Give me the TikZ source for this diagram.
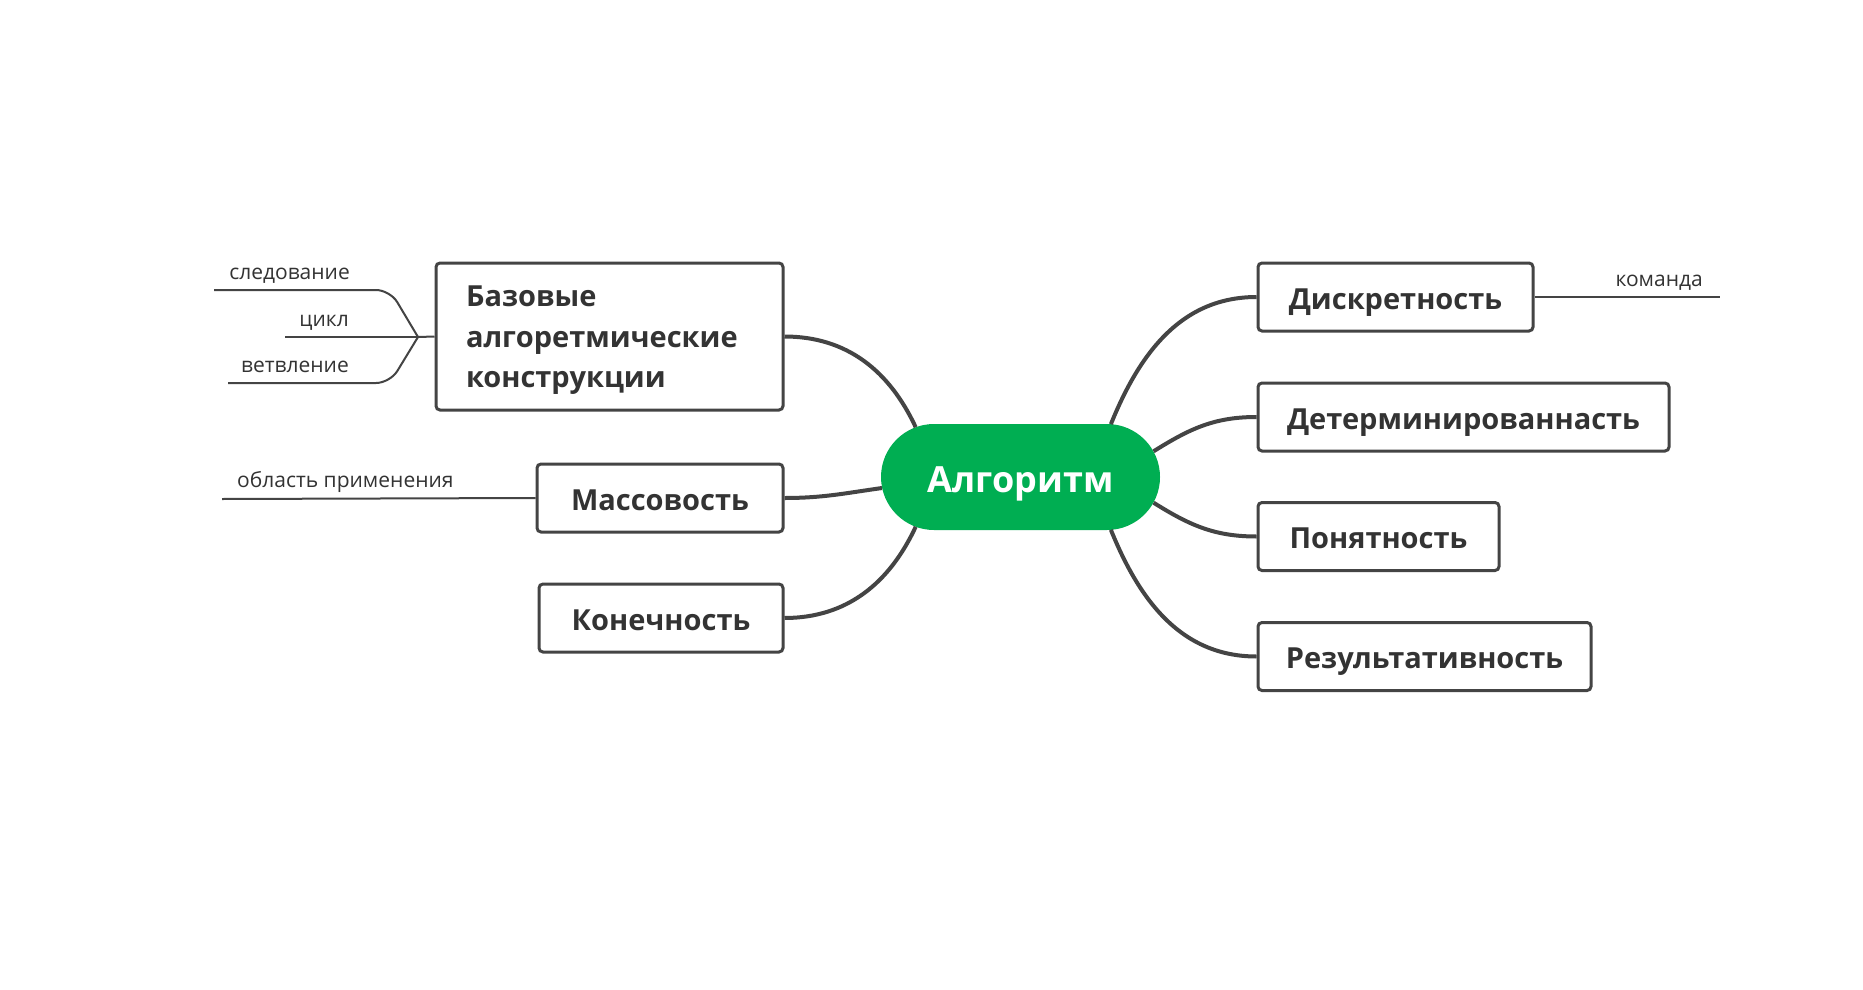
\documentclass[tikz,border=0pt]{standalone}
\usepackage{fontspec}
\setmainfont{Open Sans}
\usepackage{xcolor}
\usetikzlibrary{calc}
\definecolor{algogreen}{RGB}{0,174,82}
\definecolor{linegray}{RGB}{68,68,68}
\definecolor{textgray}{RGB}{51,51,51}

\begin{document}
\begin{tikzpicture}[x=1pt,y=1pt,
		box/.style={draw=linegray,line width=3pt,rounded corners=4pt,fill=white,
			minimum height=68pt,inner sep=0pt,text=textgray,text height=24pt,text depth=0pt,
			font=\fontsize{29}{40.5}\selectfont\bfseries},
		trunk/.style={linegray,line width=4pt},
		twig/.style={linegray,line width=2pt},
		leaf/.style={text=textgray,inner sep=0pt,font=\fontsize{21}{25}\selectfont}]
		\fill[white] (0,0) rectangle (1863,-990);
		\useasboundingbox (0,0) rectangle (1863,-990);
		
		% centre
		\node[fill=algogreen,rounded corners=53pt,minimum width=279pt,minimum height=106pt,
			inner sep=0pt,text=white,text height=30pt,text depth=0pt,
			font=\fontsize{36}{40}\selectfont\bfseries]
			(alg) at (1020.5,-477) {Алгоритм};
		\coordinate (rc) at ([xshift=-53]alg.east);
		\coordinate (lc) at ([xshift=53]alg.west);
		
		% left side
		\node[box,minimum width=347pt,minimum height=147pt,text width=287pt,align=left,
			text height=20pt,text depth=80pt]
			(base) at (609.5,-336.5) {Базовые\\алгоретмические\\конструкции};
		\node[box,minimum width=246pt] (mass) at (660,-498) {Массовость};
		\node[box,minimum width=244pt] (kon) at (661,-618) {Конечность};
		
		% right side
		\node[box,minimum width=275pt] (disc) at (1395.5,-297) {Дискретность};
		\node[box,minimum width=411pt] (det) at (1463.5,-417) {Детерминированнасть};
		\node[box,minimum width=241pt] (pon) at (1378.5,-536.5) {Понятность};
		\node[box,minimum width=333pt] (res) at (1424.5,-656.5) {Результативность};
		
		\draw[trunk] ($(lc)+(110:53pt)$) to[out=115,in=0] (base.east);
		\draw[trunk] ($(lc)+(192:53pt)$) to[out=188,in=0] (mass.east);
		\draw[trunk] ($(lc)+(-110:53pt)$) to[out=-115,in=0] (kon.east);
		\draw[trunk] ($(rc)+(86:53pt)$) to[out=68,in=180] (disc.west);
		\draw[trunk] ($(rc)+(29:53pt)$) to[out=32,in=180] (det.west);
		\draw[trunk] ($(rc)+(-29:53pt)$) to[out=-32,in=180] (pon.west);
		\draw[trunk] ($(rc)+(-86:53pt)$) to[out=-68,in=180] (res.west);
		
		% small branches
		\coordinate (fork) at (418,-337);
		\coordinate (sled) at (214,-290);
		\coordinate (cikl) at (285,-337);
		\coordinate (vetv) at (228,-383);
		\coordinate (obl) at (222,-499);
		\coordinate (kom) at (1720,-297);
		
		\draw[twig] (base.west) -- (fork);
		\draw[twig,rounded corners=14pt] (fork) -- (390,-290) -- (sled);
		\draw[twig] (fork) -- (cikl);
		\draw[twig,rounded corners=14pt] (fork) -- (390,-383) -- (vetv);
		\draw[twig] (mass.west) -- (obl);
		\draw[twig] (disc.east) -- (kom);
		
		\node[leaf,anchor=base east] (tsled) at (350,-279) {следование};
		\node[leaf,anchor=base east] (tcikl) at (349,-326) {цикл};
		\node[leaf,anchor=base east] (tvetv) at (349,-372) {ветвление};
		\node[leaf,anchor=base west] (tobl) at (237,-487) {область применения};
		\node[leaf,anchor=base east] (tkom) at (1703,-286) {команда};
		
\end{tikzpicture}
\end{document}
